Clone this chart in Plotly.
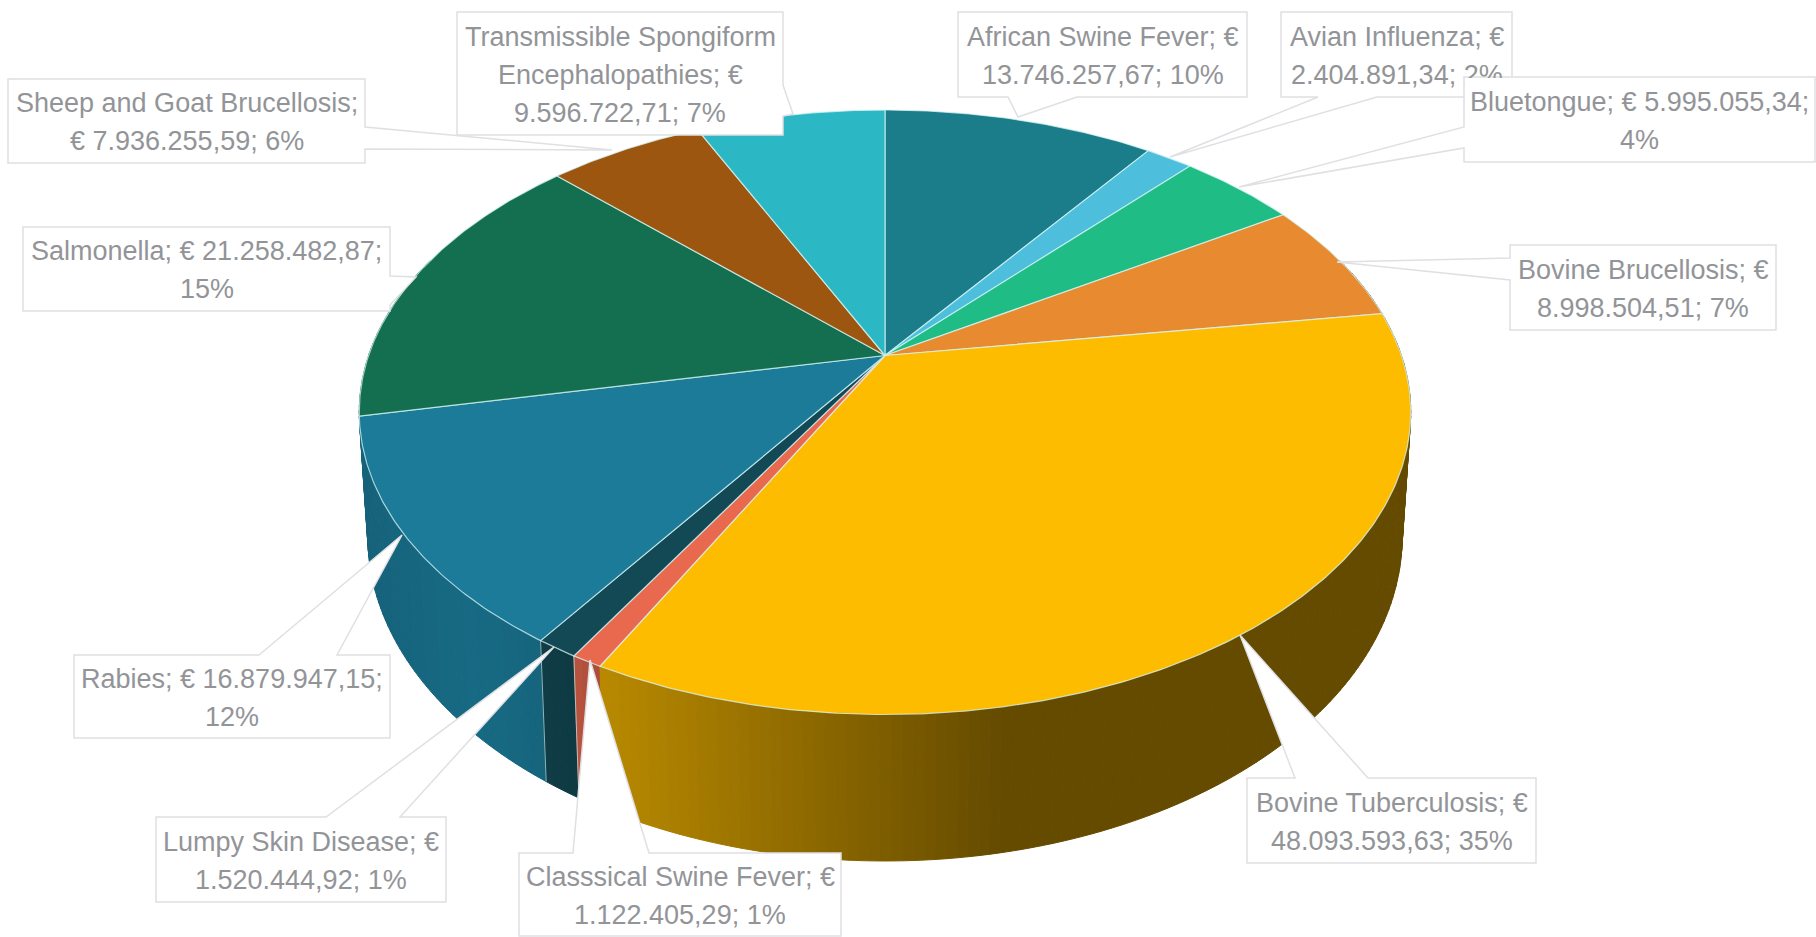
import numpy as np
import plotly.graph_objects as go

diseases = ["African Swine Fever", "Avian Influenza", "Bluetongue", "Bovine Brucellosis",
            "Bovine Tuberculosis", "Classsical Swine Fever", "Lumpy Skin Disease", "Rabies",
            "Salmonella", "Sheep and Goat Brucellosis", "Transmissible Spongiform Encephalopathies"]
values = [13746257.67, 2404891.34, 5995055.34, 8998504.51, 48093593.63, 1122405.29,
          1520444.92, 16879947.15, 21258482.87, 7936255.59, 9596722.71]
colors = ["#1c7d8a", "#4dbfdd", "#1fbd85", "#e88a30", "#fdbc00", "#e9694f",
          "#124955", "#1b7b99", "#136f50", "#9c560f", "#2bb7c3"]
label_lines = [
    ["African Swine Fever; €", "13.746.257,67; 10%"],
    ["Avian Influenza; €", "2.404.891,34; 2%"],
    ["Bluetongue; € 5.995.055,34;", "4%"],
    ["Bovine Brucellosis; €", "8.998.504,51; 7%"],
    ["Bovine Tuberculosis; €", "48.093.593,63; 35%"],
    ["Classsical Swine Fever; €", "1.122.405,29; 1%"],
    ["Lumpy Skin Disease; €", "1.520.444,92; 1%"],
    ["Rabies; € 16.879.947,15;", "12%"],
    ["Salmonella; € 21.258.482,87;", "15%"],
    ["Sheep and Goat Brucellosis;", "€ 7.936.255,59; 6%"],
    ["Transmissible Spongiform", "Encephalopathies; €", "9.596.722,71; 7%"],
]
# label box: x0, y0, x1, y1 ; callout outlines are inserted in the box edge
boxes = [(958, 12, 1247, 97), (1281, 12, 1512, 97), (1464, 77, 1815, 162), (1510, 245, 1776, 330),
         (1247, 778, 1536, 863), (519, 853, 841, 936), (156, 817, 446, 902), (74, 655, 390, 738),
         (23, 227, 390, 311), (8, 79, 365, 163), (457, 12, 783, 135)]
# callout: edge name, base a, base b, tip x, tip y
callouts = [("b", 1008, 1077, 1018, 117), ("b", 1318, 1377, 1170, 157), ("l", 127, 148, 1239, 187),
            ("l", 258, 280, 1337, 262), ("t", 1295, 1368, 1240, 635), ("t", 573, 649, 590, 660),
            ("t", 326, 400, 554, 647), ("t", 259, 337, 402, 535), ("r", 276, 305, 416, 277),
            ("r", 127, 149, 612, 150), ("r", 85, 116, 793, 114)]

# projected disc geometry
CX, K = 885.0, 0.1878
TOP = dict(a=516.4, b=291.6, cy=355.5)
BOT = dict(a=508.0, b=313.5, cy=475.0)
LINE_STEP = 38


def project(theta, g):
    d = 1 + K * np.cos(theta)
    return CX + g["a"] * np.sin(theta) / d, g["cy"] - g["b"] * np.cos(theta) / d


def shade(hex_color, f):
    r, g, b = (int(hex_color[i:i + 2], 16) for i in (1, 3, 5))
    return f"rgb({r * f:.0f},{g * f:.0f},{b * f:.0f})"


fig = go.Figure()
fractions = np.cumsum([0] + values) / sum(values) * 2 * np.pi
STEP = np.radians(1.0)

# side walls, far strips first
strips = []
for i, col in enumerate(colors):
    n = max(2, int((fractions[i + 1] - fractions[i]) / STEP) + 1)
    th = np.linspace(fractions[i], fractions[i + 1], n + 1)
    for t0, t1 in zip(th[:-1], th[1:]):
        if np.cos((t0 + t1) / 2) < 0.35:
            strips.append((np.cos((t0 + t1) / 2), t0, t1, col))
for _, t0, t1, col in sorted(strips, key=lambda s: -s[0]):
    x0, y0 = project(t0, TOP)
    x1, y1 = project(t1, TOP)
    x2, y2 = project(t1, BOT)
    x3, y3 = project(t0, BOT)
    f = float(np.interp((x0 + x1) / 2, [359, 470, 570, 600, 1000, 1410], [0.80, 0.86, 0.8, 0.73, 0.40, 0.40]))
    c = shade(col, f)
    fig.add_trace(go.Scatter(x=[x0, x1, x2, x3, x0], y=[y0, y1, y2, y3, y0], mode="lines", fill="toself",
                             fillcolor=c, line=dict(color=c, width=1), hoverinfo="skip", showlegend=False))

# light seam on the front wall
for t in fractions[6:8]:
    x0, y0 = project(t, TOP)
    x1, y1 = project(t, BOT)
    fig.add_trace(go.Scatter(x=[x0, x1], y=[y0, y1], mode="lines", line=dict(color="rgba(190,235,240,0.7)", width=1),
                             hoverinfo="skip", showlegend=False))

# top face
for i, (name, col, val) in enumerate(zip(diseases, colors, values)):
    n = max(4, int((fractions[i + 1] - fractions[i]) / np.radians(0.5)))
    th = np.linspace(fractions[i], fractions[i + 1], n + 1)
    px, py = project(th, TOP)
    ax, ay = CX, TOP["cy"]
    xs = np.concatenate([[ax], px, [ax]])
    ys = np.concatenate([[ay], py, [ay]])
    fig.add_trace(go.Scatter(x=xs, y=ys, mode="lines", fill="toself", fillcolor=col,
                             line=dict(color="rgba(215,245,245,0.75)", width=1.2),
                             name=name, text=f"{name}: {val:,.2f}", hoverinfo="text", showlegend=False))

# callout boxes and text
shapes, annotations = [], []
font = dict(family="Liberation Sans, sans-serif", size=27, color="#929498")
for idx, (box, call, lines) in enumerate(zip(boxes, callouts, label_lines)):
    x0, y0, x1, y1 = box
    e, a, b, tx, ty = call
    pts = [(x0, y0)]
    if e == "t":
        pts += [(a, y0), (tx, ty), (b, y0)]
    pts.append((x1, y0))
    if e == "r":
        pts += [(x1, a), (tx, ty), (x1, b)]
    pts.append((x1, y1))
    if e == "b":
        pts += [(b, y1), (tx, ty), (a, y1)]
    pts.append((x0, y1))
    if e == "l":
        pts += [(x0, b), (tx, ty), (x0, a)]
    path = "M " + " L ".join(f"{p[0]},{p[1]}" for p in pts) + " Z"
    shapes.append(dict(type="path", path=path, xref="x", yref="y", fillcolor="white",
                       line=dict(color="#dfe0e3", width=1.5), layer="above"))
    if idx == 2:
        # this box sits over the end of the previous label
        annotations.append(dict(x=(x0 + x1) / 2, y=(y0 + y1) / 2, xref="x", yref="y", showarrow=False, text=" ",
                                width=x1 - x0 - 2, height=y1 - y0 - 2, bgcolor="white", borderwidth=0, borderpad=0,
                                xanchor="center", yanchor="middle"))
    mid = (y0 + y1) / 2 + 1
    for k, line in enumerate(lines):
        annotations.append(dict(x=(x0 + x1) / 2, y=mid + (k - (len(lines) - 1) / 2) * LINE_STEP, xref="x", yref="y",
                                showarrow=False, text=line, align="center", xanchor="center", yanchor="middle",
                                font=font))

fig.update_layout(width=1816, height=937, margin=dict(l=0, r=0, t=0, b=0), autosize=False,
                  paper_bgcolor="white", plot_bgcolor="white", shapes=shapes, annotations=annotations,
                  xaxis=dict(range=[0, 1816], visible=False, fixedrange=True),
                  yaxis=dict(range=[937, 0], visible=False, fixedrange=True),
                  showlegend=False)
fig.write_html("out.html", config=dict(displayModeBar=False),
               post_script="document.body.style.margin='0';document.body.style.overflow='hidden';")
